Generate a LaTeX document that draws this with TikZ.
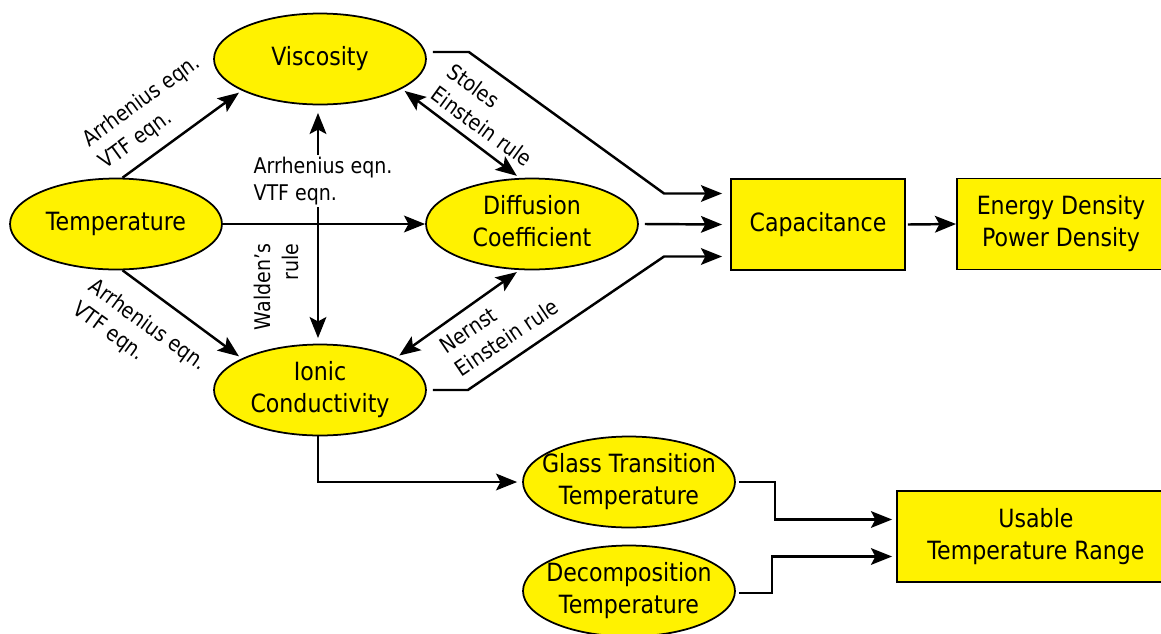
\documentclass[tikz,border=0pt]{standalone}
\usepackage{fontspec}
\setmainfont[FakeStretch=0.88]{DejaVu Sans}
\usetikzlibrary{shapes.geometric,arrows.meta}
\newcommand{\fixtext}[1]{\makebox[0pt]{\begin{tabular}{@{}c@{}}#1\end{tabular}}}
\begin{document}
\begin{tikzpicture}[x=0.02cm,y=-0.02cm,
  ell/.style={ellipse, draw, fill=yellow, line width=1pt, minimum width=4.24cm, minimum height=1.82cm, inner sep=0pt, align=center, font=\fontsize{14.3}{18.2}\selectfont},
  boxnode/.style={rectangle, draw, fill=yellow, line width=1.1pt, minimum height=1.82cm, inner sep=0pt, align=center, font=\fontsize{14.3}{18.2}\selectfont},
  lbl/.style={inner sep=1pt, align=left, font=\fontsize{12.3}{15.9}\selectfont},
  arr/.style={line width=1.4pt, -{Stealth[length=12pt,width=9.5pt,inset=2.5pt]}},
  darr/.style={line width=1.4pt, {Stealth[length=12pt,width=9.5pt,inset=2.5pt]}-{Stealth[length=12pt,width=9.5pt,inset=2.5pt]}}
]
\useasboundingbox (0,0) rectangle (1161,633);
\clip (0,0) rectangle (1161,633);

% nodes
\node[ell] (visc) at (320,59) {\fixtext{Viscosity}};
\node[ell] (temp) at (116,224) {\fixtext{Temperature}};
\node[ell] (diff) at (532,224) {\fixtext{Diffusion\\Coefficient}};
\node[ell] (ion) at (320,390) {\fixtext{Ionic\\Conductivity}};
\node[ell] (glass) at (629,482) {\fixtext{Glass Transition\\Temperature}};
\node[ell] (decomp) at (629,591) {\fixtext{Decomposition\\Temperature}};
\node[boxnode, minimum width=3.48cm] (cap) at (818,224.5) {Capacitance};
\node[boxnode, minimum width=4.16cm] (energy) at (1061,224) {Energy Density\\Power Density};
\node[boxnode, minimum width=5.56cm] (usable) at (1036,536.5) {Usable\\Temperature Range};

% connectors
\draw[arr, shorten >=2pt] (temp.82) -- (visc.202);
\draw[arr, shorten >=2pt] (temp.-82) -- (ion.158);
\draw[arr] (temp.east) -- (diff.west);
\draw[darr, shorten <=2pt, shorten >=2pt] (visc.-20) -- (diff.105);
\draw[darr, shorten <=2pt, shorten >=2pt] (diff.255) -- (ion.23);
\draw[darr, shorten <=0.11cm, shorten >=0.15cm] ([xshift=-0.04cm]ion.north) -- ([xshift=-0.04cm]visc.south);

\draw[arr] ([shift={(6,-7)}]visc.east) -- ++(36,0) -- ([shift={(-66,-31)}]cap.west) -- ([shift={(-8,-31)}]cap.west);
\draw[arr] ([shift={(6,0)}]diff.east) -- ([shift={(-8,0)}]cap.west);
\draw[arr] ([shift={(6,0)}]ion.east) -- ++(35,0) -- ([shift={(-66,32)}]cap.west) -- ([shift={(-8,32)}]cap.west);
\draw[arr] ([shift={(2,0)}]cap.east) -- (energy.west);

\draw[arr, shorten >=0.1cm] ([xshift=-0.04cm]ion.south) |- (glass.west);
\draw[arr] ([shift={(3,0)}]glass.east) -- ++(36,0) |- ([shift={(-4,-17)}]usable.west);
\draw[arr] ([shift={(3,2)}]decomp.east) -- ++(33,0) |- ([shift={(-4,20)}]usable.west);

% labels
\node[lbl, rotate=36] (l1) at (150,113) {Arrhenius eqn.\\VTF eqn.};
\node[lbl, rotate=-36] (l2) at (139,337) {Arrhenius eqn.\\VTF eqn.};
\node[lbl, fill=white] (l3) at (323,181) {Arrhenius eqn.\\VTF eqn.};
\node[lbl, rotate=90, align=right] (l4) at (276,287) {Walden's\\rule};
\node[lbl, rotate=-36] (l5) at (490,115) {Stoles\\Einstein rule};
\node[lbl, rotate=34] (l6) at (499,326) {Nernst\\Einstein rule};
\end{tikzpicture}
\end{document}
